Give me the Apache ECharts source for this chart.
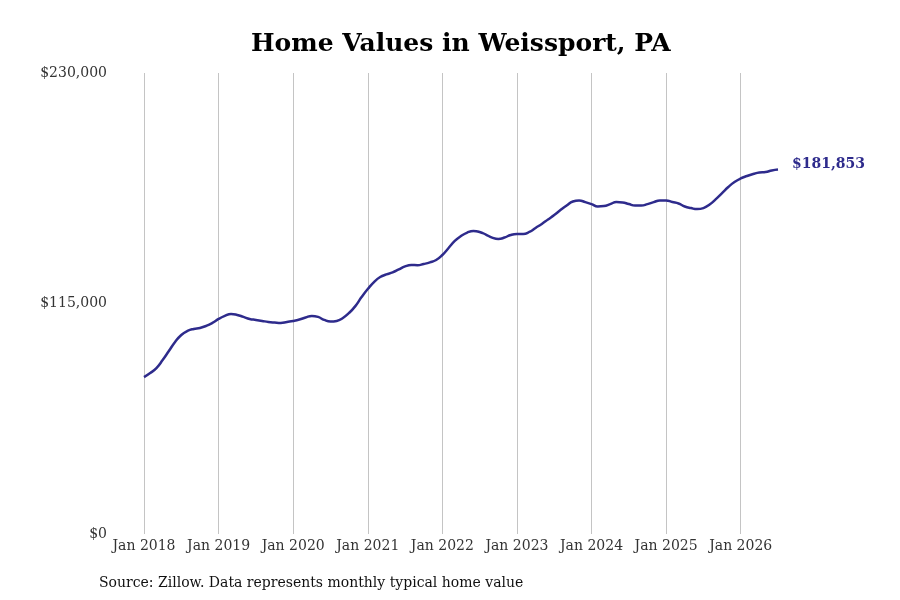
<!DOCTYPE html>
<html>
<head>
<meta charset="utf-8">
<title>Home Values in Weissport, PA</title>
<script src="https://cdn.jsdelivr.net/npm/echarts@6/dist/echarts.min.js"></script>
<style>
    html, body { margin: 0; padding: 0; background: #fff; }
    #main { width: 900px; height: 600px; }
</style>
</head>
<body>
<div id="main"></div>
<script>
// 数据：每月典型房价（2018年1月 - 2026年7月）
var startYear = 2018;
var values = [
    78300, 80300, 82800, 86800, 91300, 95800, 99300, 101300, 102300, 102800, 103800, 105300,
    107300, 108800, 109800, 109300, 108300, 107300, 106800, 106300, 105800, 105500, 105300, 105800,
    106300, 107000, 108000, 108800, 108300, 106800, 106000, 106300, 107800, 110300, 113700, 118200,
    122200, 125700, 128200, 129500, 130500, 132000, 133500, 134200, 134100, 134700, 135500, 136700,
    139200, 142700, 146200, 148700, 150400, 151200, 150700, 149400, 147900, 147200, 147900, 149200,
    149700, 149700, 150700, 152700, 154700, 156900, 159100, 161600, 163900, 165900, 166400, 165600,
    164600, 163400, 163600, 164600, 165600, 165400, 164600, 163900, 163900, 164600, 165600, 166400,
    166400, 165600, 164900, 163400, 162600, 162100, 162600, 164400, 167100, 170100, 173100, 175600,
    177400, 178600, 179600, 180400, 180600, 181400, 181853
];
var monthNames = ['Jan', 'Feb', 'Mar', 'Apr', 'May', 'Jun', 'Jul', 'Aug', 'Sep', 'Oct', 'Nov', 'Dec'];
var categories = values.map(function (v, i) {
    return monthNames[i % 12] + ' ' + (startYear + Math.floor(i / 12));
});
var yTicks = [0, 115000, 230000];

var dom = document.getElementById('main');
var myChart = echarts.init(dom);

function money(v) {
    return '$' + Math.round(v).toString().replace(/\B(?=(\d{3})+(?!\d))/g, ',');
}
function isJan(index) {
    return index % 12 === 0;
}

var option = {
    backgroundColor: '#fff',
    animation: false,
    textStyle: { fontFamily: 'DejaVu Serif' },
    title: {
        text: 'Home Values in Weissport, PA',
        left: 246,
        top: 27,
        textStyle: {
            fontFamily: 'DejaVu Serif',
            fontWeight: 'bold',
            fontSize: 25,
            color: '#000'
        }
    },
    graphic: [{
        type: 'text',
        left: 99,
        top: 576,
        style: {
            text: 'Source: Zillow. Data represents monthly typical home value',
            font: '14px "DejaVu Serif"',
            fill: '#111'
        }
    }],
    grid: {
        left: 144,
        right: 122,
        top: 73,
        bottom: 66,
        containLabel: false
    },
    xAxis: {
        type: 'category',
        data: categories,
        boundaryGap: false,
        axisLine: { show: false },
        axisTick: { show: false },
        axisLabel: {
            interval: function (index) { return isJan(index); },
            color: '#333',
            fontSize: 14,
            fontFamily: 'DejaVu Serif',
            margin: 5
        },
        splitLine: {
            show: true,
            interval: function (index) { return isJan(index); },
            lineStyle: { color: '#c4c4c4', width: 1 }
        }
    },
    yAxis: {
        type: 'value',
        min: yTicks[0],
        max: yTicks[yTicks.length - 1],
        interval: yTicks[1] - yTicks[0],
        axisLine: { show: false },
        axisTick: { show: false },
        splitLine: { show: false },
        axisLabel: {
            formatter: money,
            color: '#333',
            fontSize: 14,
            fontFamily: 'DejaVu Serif',
            margin: 37,
            padding: [4, 0, 0, 0]
        }
    },
    series: [{
        type: 'line',
        data: values,
        smooth: true,
        showSymbol: false,
        lineStyle: { color: '#2e2b8c', width: 2.5 },
        itemStyle: { color: '#2e2b8c' },
        endLabel: {
            show: true,
            formatter: function (p) { return money(p.value); },
            color: '#2e2b8c',
            fontWeight: 'bold',
            fontSize: 14,
            fontFamily: 'DejaVu Serif',
            distance: 14,
            offset: [0, -5]
        }
    }]
};

myChart.setOption(option);
</script>
</body>
</html>
